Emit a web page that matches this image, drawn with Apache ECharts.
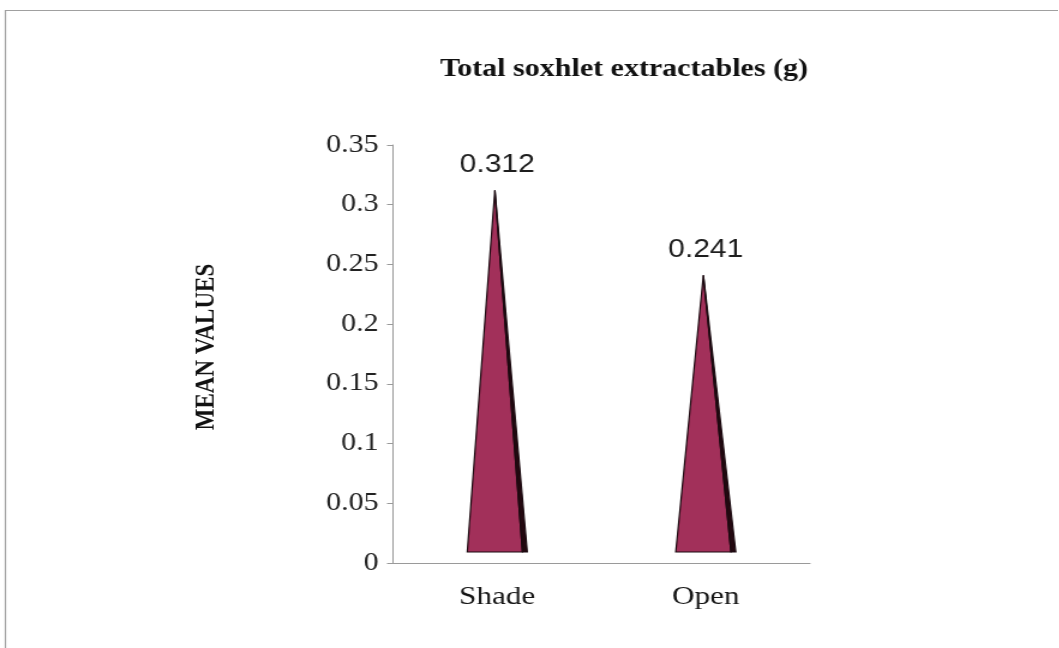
<!DOCTYPE html>
<html>
<head>
<meta charset="utf-8">
<script src="https://cdn.jsdelivr.net/npm/echarts/dist/echarts.min.js"></script>
<style>
  html, body { margin: 0; padding: 0; background: #ffffff; overflow: hidden; }
  /* the chart is laid out narrower and widened horizontally, giving the broad serif lettering */
  #chart { width: 882px; height: 648px; transform: scaleX(1.2); transform-origin: 0 0; }
</style>
</head>
<body>
<div id="chart"></div>
<script>
const categories = ['Shade', 'Open'];
const meanValues = [0.312, 0.241];
const yTicks = { min: 0, max: 0.35, interval: 0.05 };

const chart = echarts.init(document.getElementById('chart'), null, { renderer: 'canvas' });

// Pyramid mark: a crimson face with a dark right-hand edge, value printed above the apex
function renderPyramid(params, api) {
  const idx = api.value(0);
  const v = api.value(1);
  const base = api.coord([idx, 0]);
  const top = api.coord([idx, v]);
  const cx = base[0];
  const by = base[1] - 11;
  const hw = 25, edge = 4;
  const ax = cx - 2, ay = top[1];
  return {
    type: 'group',
    children: [
      {
        type: 'polygon',
        shape: { points: [[cx - hw, by], [cx + hw - edge, by], [ax, ay]] },
        style: { fill: '#a2305a', stroke: '#1b0a10', lineWidth: 1.2 }
      },
      {
        type: 'polygon',
        shape: { points: [[cx + hw - edge, by], [cx + hw, by], [ax, ay]] },
        style: { fill: '#240810', stroke: '#1b0a10', lineWidth: 1.2 }
      },
      {
        type: 'text',
        style: {
          text: v.toFixed(3), x: cx, y: ay - 13,
          align: 'center', verticalAlign: 'bottom',
          font: '25px "Liberation Sans", Arial, sans-serif', fill: '#1e1e1e'
        }
      }
    ]
  };
}

chart.setOption({
  backgroundColor: '#ffffff',
  animation: false,
  title: {
    text: 'Total soxhlet extractables (g)',
    left: 515, top: 52, textAlign: 'center',
    textStyle: { fontFamily: '"Liberation Serif", "Times New Roman", serif', fontWeight: 'bold', fontSize: 25, color: '#111' }
  },
  graphic: [
    {
      type: 'rect', silent: true,
      shape: { x: 4.5, y: 10.5, width: 900, height: 700 },
      style: { fill: 'none', stroke: '#a0a0a0', lineWidth: 1.2 }
    },
    {
      type: 'text', silent: true,
      x: 172, y: 347, rotation: Math.PI / 2,
      style: {
        text: 'MEAN VALUES', align: 'center', verticalAlign: 'middle',
        font: 'bold 23px "Liberation Serif", "Times New Roman", serif', fill: '#111'
      }
    }
  ],
  grid: { left: 327.5, right: 207, top: 145, bottom: 85, containLabel: false },
  xAxis: {
    type: 'category',
    data: categories,
    axisLine: { lineStyle: { color: '#9a9a9a', width: 1 } },
    axisTick: { show: false },
    axisLabel: {
      margin: 21, color: '#161616', fontSize: 26,
      fontFamily: '"Liberation Serif", "Times New Roman", serif'
    }
  },
  yAxis: {
    type: 'value',
    min: yTicks.min, max: yTicks.max, interval: yTicks.interval,
    axisLine: { show: true, lineStyle: { color: '#9a9a9a', width: 1 } },
    axisTick: { show: true, length: 5, lineStyle: { color: '#9a9a9a' } },
    splitLine: { show: false },
    axisLabel: {
      margin: 12, color: '#222', fontSize: 25,
      fontFamily: '"Liberation Serif", "Times New Roman", serif',
      formatter: v => String(+v.toFixed(2))
    }
  },
  series: [{
    type: 'custom',
    renderItem: renderPyramid,
    encode: { x: 0, y: 1 },
    data: meanValues.map((v, i) => [i, v]),
    clip: false
  }]
});
</script>
</body>
</html>
